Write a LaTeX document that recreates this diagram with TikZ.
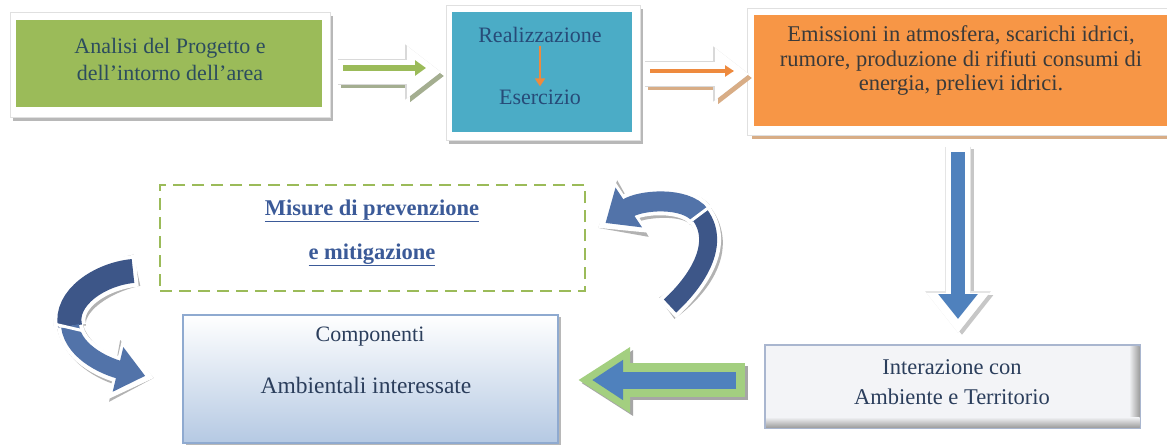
\documentclass[tikz,border=0pt]{standalone}
\usepackage{fontspec}
\setmainfont{Liberation Serif}
\usetikzlibrary{arrows.meta,calc}
\definecolor{gfill}{HTML}{9BBB59}
\definecolor{bfill}{HTML}{4BACC6}
\definecolor{ofill}{HTML}{F79646}
\definecolor{oarrow}{HTML}{EE8A3E}
\definecolor{ablue}{HTML}{4F81BD}
\definecolor{lgreen}{HTML}{A3CF80}
\definecolor{cdark}{HTML}{3D5688}
\definecolor{clight}{HTML}{5273A9}
\definecolor{txtg}{HTML}{2C4C5E}
\definecolor{txtb}{HTML}{274B78}
\definecolor{txto}{HTML}{3A3A3A}
\definecolor{txtc}{HTML}{2B3E5C}
\definecolor{mcol}{HTML}{3B5A98}
\definecolor{gshad}{HTML}{A4AE90}
\definecolor{oshad}{HTML}{D8AD86}
\definecolor{cborder}{HTML}{8FAAD0}
\definecolor{cbot}{HTML}{B5C9E3}
\definecolor{iborder}{HTML}{A9B6CF}
\definecolor{ifill}{HTML}{F3F4F7}
\begin{document}
\begin{tikzpicture}[x=1pt,y=-1pt,
  txt/.style={font=\fontsize{22}{27}\selectfont, align=center, inner sep=0pt},
  framebox/.style={draw=black!12, fill=white, line width=0.6pt},
  shadowbox/.style={fill=black!28, draw=none},
  bigwhite/.style={line width=24pt, white, -{Triangle[length=34pt,width=50pt]}},
  bigedge/.style={line width=25.5pt, black!15, -{Triangle[length=36pt,width=53pt]}},
]
\useasboundingbox (0,0) rectangle (1167,445);
\clip (0,0) rectangle (1167,445);
\fill[white] (0,0) rectangle (1167,445);

% ---------- green box ----------
\node[shadowbox, minimum width=320pt, minimum height=105pt] (gsh) at (173,68) {};
\node[framebox, minimum width=320pt, minimum height=105pt] (gfr) at (170,64.5) {};
\node[fill=gfill, minimum width=306pt, minimum height=87pt] (g) at (169,63.5) {};
\node[txt, text=txtg] (gtext) at (170,59) {Analisi del Progetto e\\dell’intorno dell’area};

% ---------- blue box ----------
\node[shadowbox, minimum width=194pt, minimum height=135pt] (bsh) at (546,76) {};
\node[framebox, minimum width=194pt, minimum height=135pt] (bfr) at (543,72.5) {};
\node[fill=bfill, minimum width=180pt, minimum height=120pt] (b) at (542,72) {};
\node[txt, text=txtb, inner sep=3pt] (real) at (540,35) {Realizzazione};
\node[txt, text=txtb, inner sep=3pt] (eser) at (540,97) {Esercizio};
\draw[line width=1.6pt, oarrow, -{Triangle[length=8pt,width=10pt]}] (real) -- (eser);

% ---------- orange box ----------
\node[fill=oshad, minimum width=425pt, minimum height=127pt] (osh) at (964,75.5) {};
\node[framebox, minimum width=425pt, minimum height=127pt] (ofr) at (959.5,71.5) {};
\node[fill=ofill, minimum width=418pt, minimum height=111pt] (o) at (963,70.5) {};
\node[txt, text=txto, font=\fontsize{22.5}{24.5}\selectfont] (otext) at (961,61)
  {Emissioni in atmosfera, scarichi idrici,\\rumore, produzione di rifiuti consumi di\\energia, prelievi idrici.};

% ---------- top arrows ----------
\coordinate (ga0) at (338,72);
\coordinate (ga1) at (441,72);
\draw[bigwhite, gshad] ([shift={(3,4)}]ga0) -- ([shift={(3,4)}]ga1);
\draw[bigedge] (ga0) -- (ga1);
\draw[bigwhite] (ga0) -- (ga1);
\coordinate (gt0) at (343,68);
\coordinate (gt1) at (426,68);
\draw[line width=6pt, gfill, -{Triangle[length=11pt,width=15pt]}] (gt0) -- (gt1);

\coordinate (oa0) at (645,74);
\coordinate (oa1) at (749,74);
\draw[bigwhite, oshad] ([shift={(3,4)}]oa0) -- ([shift={(3,4)}]oa1);
\draw[bigedge] (oa0) -- (oa1);
\draw[bigwhite] (oa0) -- (oa1);
\coordinate (ot0) at (650,71);
\coordinate (ot1) at (734,71);
\draw[line width=3.5pt, oarrow, -{Triangle[length=9pt,width=11pt]}] (ot0) -- (ot1);

% ---------- down arrow ----------
\coordinate (da0) at (958,152);
\coordinate (da1) at (958,333);
\draw[line width=24pt, black!22, shorten <=-5pt, -{Triangle[length=40pt,width=60pt]}] ([shift={(4,2)}]da0) -- ([shift={(4,2)}]da1);
\draw[line width=25.5pt, black!10, shorten <=-5.5pt, -{Triangle[length=42pt,width=63pt]}] (da0) -- (da1);
\draw[line width=24pt, white, shorten <=-5pt, -{Triangle[length=40pt,width=60pt]}] (da0) -- (da1);
\draw[line width=14pt, ablue, shorten >=14pt, -{Triangle[length=25pt,width=38pt]}] (da0) -- (da1);

% ---------- interazione box ----------
\node[draw=iborder, line width=1.2pt, fill=ifill, minimum width=375pt, minimum height=83pt] (inter) at (952.5,386.5) {};
\shade[left color=ifill, right color=black!38] (1129,346) rectangle (1139.5,427.5);
\shade[top color=ifill, bottom color=black!38] (766,417) rectangle (1139.5,427.5);
\draw[iborder, line width=1.2pt] (inter.north west) rectangle (inter.south east);
\node[txt, text=txtc, font=\fontsize{22.5}{30}\selectfont] (itext) at (952,382) {Interazione con\\Ambiente e Territorio};

% ---------- left straight arrow ----------
\coordinate (la0) at (745,380);
\coordinate (la1) at (578,380);
\draw[line width=34pt, black!35, -{Triangle[length=52pt,width=62pt]}] ([shift={(3,3)}]la0) -- ([shift={(3,3)}]la1);
\draw[line width=34pt, lgreen, -{Triangle[length=52pt,width=62pt]}] (la0) -- (la1);
\draw[line width=17pt, ablue, shorten <=9pt, shorten >=14pt, -{Triangle[length=31pt,width=38pt]}] (la0) -- (la1);

% ---------- componenti box ----------
\node[shadowbox, minimum width=375pt, minimum height=128pt] (csh) at (373.5,381) {};
\node[draw=cborder, line width=1.5pt, top color=white, bottom color=cbot, minimum width=375pt, minimum height=128pt] (comp) at (370.5,379) {};
\node[txt, text=txtc] (c1) at (370,337) {Componenti};
\node[txt, text=txtc, font=\fontsize{23.5}{27}\selectfont] (c2) at (366,385) {Ambientali interessate};

% ---------- dashed box ----------
\node[draw=gfill, dash pattern=on 12pt off 7pt, line width=2.2pt, minimum width=425pt, minimum height=106pt] (mis) at (372.5,238) {};
\node[txt, text=mcol, font=\fontsize{22.5}{25}\selectfont\bfseries] (m1) at (372,211) {\underline{Misure di prevenzione}};
\node[txt, text=mcol, font=\fontsize{22.5}{25}\selectfont\bfseries] (m2) at (372,255) {\underline{e mitigazione}};

% ---------- left curved arrow ----------
\coordinate (lc0) at (133,271);
\coordinate (lc1) at (70,326);
\coordinate (lc2) at (154,378);
\begin{scope}[shift={(3,3)}, black!30]
  \draw[line width=32pt, shorten <=-4pt] (lc0) .. controls (100,274) and (64,298) .. (lc1);
  \draw[line width=26pt, -{Triangle[length=40pt,width=60pt]}] (lc1) .. controls (74,355) and (112,368) .. (lc2);
\end{scope}
\begin{scope}[white]
  \draw[line width=32pt, shorten <=-4pt] (lc0) .. controls (100,274) and (64,298) .. (lc1);
  \draw[line width=26pt, -{Triangle[length=40pt,width=60pt]}] (lc1) .. controls (74,355) and (112,368) .. (lc2);
\end{scope}
\draw[line width=24pt, cdark] (lc0) .. controls (100,274) and (64,298) .. (lc1);
\draw[line width=18pt, clight, shorten >=9pt, -{Triangle[length=28pt,width=44pt]}] (lc1) .. controls (74,355) and (112,368) .. (lc2);
\draw[white, line width=3pt] (54,324) -- (84,331);

% ---------- right curved arrow ----------
\coordinate (rc0) at (670,306);
\coordinate (rc1) at (700,215);
\coordinate (rc2) at (598,228);
\begin{scope}[shift={(3,3)}, black!30]
  \draw[line width=26pt, shorten <=-4pt] (rc0) .. controls (695,283) and (722,245) .. (rc1);
  \draw[line width=28pt, -{Triangle[length=40pt,width=62pt]}] (rc1) .. controls (685,196) and (640,200) .. (rc2);
\end{scope}
\begin{scope}[white]
  \draw[line width=26pt, shorten <=-4pt] (rc0) .. controls (695,283) and (722,245) .. (rc1);
  \draw[line width=28pt, -{Triangle[length=40pt,width=62pt]}] (rc1) .. controls (685,196) and (640,200) .. (rc2);
\end{scope}
\draw[line width=18pt, cdark] (rc0) .. controls (695,283) and (722,245) .. (rc1);
\draw[line width=20pt, clight, shorten >=9pt, -{Triangle[length=28pt,width=46pt]}] (rc1) .. controls (685,196) and (640,200) .. (rc2);
\draw[white, line width=3pt] (688,223) -- (712,205);
\end{tikzpicture}
\end{document}
